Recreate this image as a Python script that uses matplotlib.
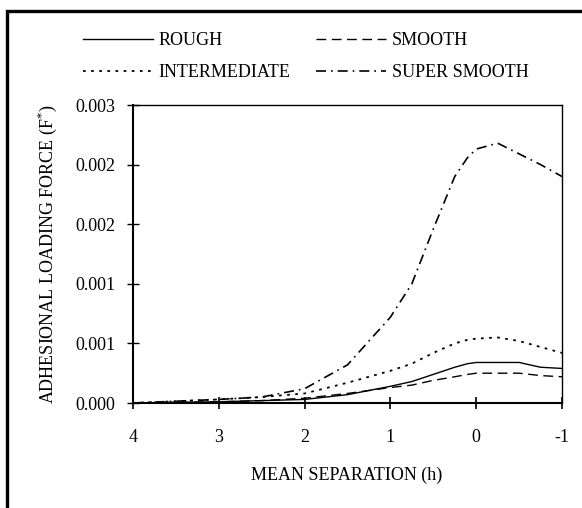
import matplotlib
matplotlib.use('Agg')
import matplotlib.pyplot as plt
from matplotlib.patches import Rectangle

plt.rcParams['font.family'] = ['Liberation Serif', 'DejaVu Serif']
plt.rcParams['mathtext.fontset'] = 'custom'
plt.rcParams['mathtext.rm'] = 'Liberation Serif'
plt.rcParams['font.size'] = 13

# mean separation h
h = [4, 3, 2.5, 2, 1.5, 1.0, 0.75, 0.5, 0.25, 0.1, 0, -0.25, -0.5, -0.75, -1]
rough = [0, 0.00001, 0.00002, 0.00003, 0.00007, 0.00014, 0.00018, 0.00024,
         0.00030, 0.00033, 0.00034, 0.00034, 0.00034, 0.00030, 0.00029]
smooth = [0, 0.00001, 0.00002, 0.00004, 0.00008, 0.00013, 0.00015, 0.00019,
          0.00022, 0.00024, 0.00025, 0.00025, 0.00025, 0.00023, 0.00022]
intermediate = [0, 0.00003, 0.00005, 0.00008, 0.00017, 0.00027, 0.00033, 0.00042,
                0.00050, 0.00053, 0.00054, 0.00055, 0.00052, 0.00047, 0.00042]
super_smooth = [0, 0.00003, 0.00005, 0.00012, 0.00032, 0.00072, 0.00100, 0.00146,
                0.00190, 0.00206, 0.00213, 0.00218, 0.00209, 0.00200, 0.00190]

xticks = [4, 3, 2, 1, 0, -1]
yticks = [0, 0.0005, 0.001, 0.0015, 0.002, 0.0025]
ytick_labels = ['0.000', '0.001', '0.001', '0.002', '0.002', '0.003']

fig = plt.figure(figsize=(5.82, 5.08), dpi=100)
ax = fig.add_axes([133/582, 1-403/508, 429/582, 298/508])

l1, = ax.plot(h, rough, color='black', lw=1.0, ls='-')
l3, = ax.plot(h, intermediate, color='black', lw=1.3, ls=(0, (1.5, 3)))
l2, = ax.plot(h, smooth, color='black', lw=1.0, ls=(0, (7, 4)))
l4, = ax.plot(h, super_smooth, color='black', lw=1.2, ls=(0, (6, 3, 1, 3)))

ax.set_xlim(4, -1)
ax.set_ylim(0, 0.0025)
ax.set_xticks(xticks)
ax.set_xticklabels([str(t) for t in xticks])
ax.set_yticks(yticks)
ax.set_yticklabels(ytick_labels)
ax.tick_params(axis='x', direction='inout', length=9, width=1.2, pad=14.5)
ax.tick_params(axis='y', direction='inout', length=9, width=1.0, pad=8)
for s in ['left', 'bottom']:
    ax.spines[s].set_linewidth(1.5)
for s in ['top', 'right']:
    ax.spines[s].set_linewidth(1.0)

fig.text(347/582, 1-475/508, 'MEAN SEPARATION (h)', ha='center', va='center')
fig.text(47/582, 1-254/508, r'ADHESIONAL LOADING FORCE (F$^{*}$)',
         ha='center', va='center', rotation=90)

fig.legend([l1, l3, l2, l4], ['ROUGH', 'INTERMEDIATE', 'SMOOTH', 'SUPER SMOOTH'],
           ncol=2, loc='upper left', bbox_to_anchor=(83/582, 1-32/508),
           frameon=False, borderpad=0, borderaxespad=0, handlelength=3.9,
           handletextpad=0.3, columnspacing=1.4, labelspacing=0.85)

fig.patches.append(Rectangle((7/582, -0.1), 1.2, 1.1 - 11/508,
                             transform=fig.transFigure, fill=False,
                             edgecolor='black', lw=2.4))

fig.savefig('out.png', dpi=100)
